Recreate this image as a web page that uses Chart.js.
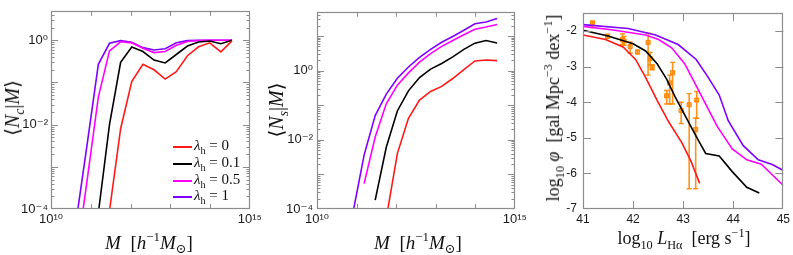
<!DOCTYPE html>
<html><head><meta charset="utf-8">
<script src="https://cdn.jsdelivr.net/npm/chart.js@4.4.1/dist/chart.umd.min.js"></script>
<style>
body{margin:0;background:#fff;width:793px;height:255px;overflow:hidden;position:relative;font-family:'Liberation Serif','DejaVu Serif',serif;}
canvas{position:absolute;top:0;}
.t{position:absolute;white-space:nowrap;transform:translate(-50%,-50%);font-size:19px;color:#111;line-height:1;}
.ty{transform:translate(-50%,-50%) rotate(-90deg);}
sup,sub{font-size:0.68em;line-height:0;}
.lg{position:absolute;left:173px;height:0;}
.lg span.sw{position:absolute;left:0;top:-1px;width:19px;height:2px;}
.lg span.tx{position:absolute;left:21px;top:-9px;font-size:15px;white-space:nowrap;color:#111;line-height:1;}
</style></head><body>
<canvas id="c1" width="265" height="255" style="left:0"></canvas>
<canvas id="c2" width="265" height="255" style="left:265px"></canvas>
<canvas id="c3" width="263" height="255" style="left:530px"></canvas>

<div class="t ty" style="left:12px;top:108px;font-size:20px">⟨<i>N</i><sub><i>c</i></sub>|<i>M</i>⟩</div>
<div class="t" style="left:149px;top:242px"><i>M</i>&nbsp;&nbsp;[<i>h</i><sup>−1</sup><i>M</i><sub>⊙</sub>]</div>
<div class="t ty" style="left:276px;top:110px;font-size:20px">⟨<i>N</i><sub><i>s</i></sub>|<i>M</i>⟩</div>
<div class="t" style="left:418px;top:242px"><i>M</i>&nbsp;&nbsp;[<i>h</i><sup>−1</sup><i>M</i><sub>⊙</sub>]</div>
<div class="t ty" style="left:553px;top:108px;font-size:18px">log<sub>10</sub> <i>φ</i>&nbsp;&nbsp;[gal Mpc<sup>−3</sup> dex<sup>−1</sup>]</div>
<div class="t" style="left:684px;top:238px;font-size:18px">log<sub>10</sub> <i>L</i><sub>Hα</sub>&nbsp;&nbsp;[erg s<sup>−1</sup>]</div>

<div id="legend"></div>

<script>
// ---------- data ----------
const logMass = [10.63, 10.91, 11.19, 11.47, 11.75, 12.03, 12.31, 12.59, 12.87, 13.15, 13.43, 13.71, 13.99, 14.27, 14.55];

// <Nc|M>
const ncLambda0   = [null, null, null, 9e-5, 0.008, 0.105, 0.27, 0.20, 0.12, 0.18, 0.43, 0.70, 0.87, 0.53, 0.97];
const ncLambda01  = [null, null, 8e-5, 0.010, 0.30, 0.69, 0.54, 0.34, 0.29, 0.46, 0.73, 0.91, 0.96, 0.83, 1.0];
const ncLambda05  = [6e-6, 5e-4, 0.045, 0.56, 0.92, 0.87, 0.65, 0.51, 0.54, 0.76, 0.94, 0.99, 1.0, 1.0, 1.0];
const ncLambda1   = [5e-5, 3.5e-3, 0.27, 0.85, 0.98, 0.90, 0.67, 0.59, 0.63, 0.87, 0.98, 1.0, 1.0, 1.0, 1.0];

// <Ns|M>
const nsLambda0   = [null, null, null, null, 5.4e-5, 4e-3, 0.042, 0.14, 0.25, 0.35, 0.59, 1.07, 1.9, 2.03, 1.94];
const nsLambda01  = [null, null, null, 1.8e-4, 6.1e-3, 0.068, 0.26, 0.63, 1.1, 1.6, 2.5, 4.1, 6.2, 7.4, 6.3];
const nsLambda05  = [null, null, 5.4e-4, 0.012, 0.11, 0.38, 0.86, 1.75, 3.1, 5.0, 7.4, 10.8, 15.6, 18.2, 21.6];
const nsLambda1   = [null, 8e-5, 3.6e-3, 0.05, 0.21, 0.60, 1.27, 2.4, 4.1, 6.6, 9.7, 14.7, 22.5, 25.5, 32];

// H-alpha luminosity function: log10 L and log10 phi
const lfL0    = [41.0, 41.45, 41.8, 42.05, 42.25, 42.48, 42.71, 42.97, 43.16, 43.33];
const lfPhi0  = [-2.11, -2.24, -2.45, -2.80, -3.30, -3.95, -4.55, -5.13, -5.67, -6.28];
const lfL01   = [41.0, 41.5, 42.0, 42.25, 42.48, 42.67, 42.84, 43.06, 43.29, 43.45, 43.72, 43.98, 44.27, 44.52];
const lfPhi01 = [-1.98, -2.14, -2.36, -2.56, -2.92, -3.35, -3.85, -4.43, -5.04, -5.44, -5.51, -5.95, -6.39, -6.55];
const lfL05   = [41.0, 41.6, 42.25, 42.51, 42.77, 43.03, 43.23, 43.68, 43.98, 44.27, 44.56, 45.0];
const lfPhi05 = [-1.87, -1.97, -2.11, -2.24, -2.47, -2.92, -3.46, -4.68, -5.31, -5.62, -5.74, -6.34];
const lfL1    = [41.0, 41.9, 42.45, 42.9, 43.26, 43.49, 43.72, 43.9, 44.2, 44.5, 44.79, 45.0];
const lfPhi1  = [-1.82, -1.93, -2.11, -2.38, -2.80, -3.28, -3.80, -4.52, -5.22, -5.62, -5.76, -5.92];

// observational points with error bars
const obsL   = [41.19, 41.49, 41.79, 41.82, 41.94, 42.09, 42.30, 42.34, 42.38, 42.67, 42.73, 42.79, 42.96, 43.12, 43.27, 43.25];
const obsPhi = [-1.79, -2.15, -2.24, -2.28, -2.44, -2.59, -2.32, -2.77, -3.02, -3.82, -3.46, -3.17, -4.23, -4.07, -3.94, -4.77];
const obsLo  = [-1.90, -2.20, -2.38, -2.40, -2.62, -2.64, -3.24, -2.95, -3.09, -4.05, -4.05, -4.05, -4.60, -6.43, -4.45, -6.43];
const obsHi  = [-1.72, -2.10, -2.08, -2.15, -2.31, -2.54, -2.06, -2.60, -2.95, -3.67, -3.24, -2.88, -4.00, -3.76, -3.70, -4.45];

const seriesNames  = ['λh = 0', 'λh = 0.1', 'λh = 0.5', 'λh = 1'];
const seriesColors = ['#ff1a1a', '#000000', '#ff00ff', '#7f00ff'];
const massTicks  = [10, 15];
const occTicks   = [-4, -2, 0];
const lumTicks   = [41, 42, 43, 44, 45];
const phiTicks   = [-7, -6, -5, -4, -3, -2];

// ---------- helpers ----------
const SUP = {'0':'⁰','1':'¹','2':'²','3':'³','4':'⁴','5':'⁵','6':'⁶','7':'⁷','8':'⁸','9':'⁹','-':'⁻'};
const pow10Label = e => '10' + String(e).split('').map(c => SUP[c]).join('');

function massSeries(vals) {
  const out = [];
  vals.forEach((v, i) => { if (v !== null) out.push({x: Math.pow(10, logMass[i]), y: v}); });
  return out;
}
function xySeries(xs, ys) { return xs.map((x, i) => ({x, y: ys[i]})); }

function lineDs(data, color) {
  return {data, showLine: true, borderColor: color, backgroundColor: color, borderWidth: 1.6,
          pointRadius: 0, fill: false, tension: 0};
}

function logTickList(min, max) {
  const list = [];
  for (let e = Math.floor(Math.log10(min)); e <= Math.ceil(Math.log10(max)); e++) {
    for (let k = 1; k <= 9; k++) {
      const v = k * Math.pow(10, e);
      if (v > min * 1.0001 && v < max * 0.9999) list.push({v, major: k === 1});
    }
  }
  return list;
}

const frameTicks = {
  id: 'frameTicks',
  afterDraw(chart, args, o) {
    const {ctx, chartArea: a, scales} = chart;
    ctx.save();
    ctx.strokeStyle = '#8c8c8c';
    ctx.lineWidth = 1;
    ctx.beginPath();
    (o.xTicks || []).forEach(t => {
      const p = Math.round(scales.x.getPixelForValue(t.v)) + 0.5;
      const L = t.major ? o.xMajor : o.xMinor;
      ctx.moveTo(p, a.bottom); ctx.lineTo(p, a.bottom - L);
      ctx.moveTo(p, a.top); ctx.lineTo(p, a.top + L);
    });
    (o.yTicks || []).forEach(t => {
      const p = Math.round(scales.y.getPixelForValue(t.v)) + 0.5;
      const L = t.major ? o.yMajor : o.yMinor;
      ctx.moveTo(a.left, p); ctx.lineTo(a.left + L, p);
      ctx.moveTo(a.right, p); ctx.lineTo(a.right - L, p);
    });
    ctx.stroke();
    ctx.lineWidth = 1.2;
    ctx.strokeRect(Math.round(a.left) + 0.5, Math.round(a.top) + 0.5,
                   Math.round(a.right - a.left) - 1, Math.round(a.bottom - a.top) - 1);
    ctx.restore();
  }
};
Chart.register(frameTicks);

const tickColor = '#1a1a1a';
const tickFamily = "'Liberation Sans', 'DejaVu Sans', sans-serif";

function makeOptions(c) {
  const font = {family: tickFamily, size: c.fontSize};
  return {
    responsive: false, animation: false, events: [],
    layout: {padding: {top: 5, right: c.padRight, left: 0, bottom: 0}, autoPadding: false},
    plugins: {legend: {display: false}, tooltip: {enabled: false},
              frameTicks: c.frame},
    scales: {
      x: {type: c.xType, min: c.xMin, max: c.xMax,
          grid: {display: false, drawTicks: false}, border: {display: false},
          afterFit: s => { s.height = 46; },
          afterBuildTicks: s => { s.ticks = c.xTickVals.map(v => ({value: v})); },
          ticks: {callback: c.xLabel, font, color: tickColor, padding: 3,
                  maxRotation: 0, autoSkip: false}},
      y: {type: c.yType, min: c.yMin, max: c.yMax,
          grid: {display: false, drawTicks: false}, border: {display: false},
          afterFit: s => { s.width = c.yWidth; },
          afterBuildTicks: s => { s.ticks = c.yTickVals.map(v => ({value: v})); },
          ticks: {callback: c.yLabel, font, color: tickColor, padding: c.yPad,
                  autoSkip: false}}
    }
  };
}

const decadeTicks = [11, 12, 13, 14].map(e => ({v: Math.pow(10, e), major: true}));

// ---------- panel 1 ----------
new Chart(document.getElementById('c1'), {
  type: 'scatter',
  data: {datasets: [ncLambda0, ncLambda01, ncLambda05, ncLambda1].map((s, i) => lineDs(massSeries(s), seriesColors[i]))},
  options: makeOptions({
    padRight: 14, yWidth: 51, yPad: 3, fontSize: 13,
    xType: 'logarithmic', xMin: 1e10, xMax: 1e15,
    xTickVals: massTicks.map(e => Math.pow(10, e)),
    xLabel: v => pow10Label(Math.round(Math.log10(v))),
    yType: 'logarithmic', yMin: 1e-4, yMax: 5,
    yTickVals: occTicks.map(e => Math.pow(10, e)),
    yLabel: v => pow10Label(Math.round(Math.log10(v))),
    frame: {xTicks: decadeTicks, yTicks: logTickList(1e-4, 5), xMajor: 5, xMinor: 3, yMajor: 7, yMinor: 3.5}
  })
});

// ---------- panel 2 ----------
new Chart(document.getElementById('c2'), {
  type: 'scatter',
  data: {datasets: [nsLambda0, nsLambda01, nsLambda05, nsLambda1].map((s, i) => lineDs(massSeries(s), seriesColors[i]))},
  options: makeOptions({
    padRight: 10, yWidth: 52, yPad: 4, fontSize: 13,
    xType: 'logarithmic', xMin: 1e10, xMax: 1e15,
    xTickVals: massTicks.map(e => Math.pow(10, e)),
    xLabel: v => pow10Label(Math.round(Math.log10(v))),
    yType: 'logarithmic', yMin: 1e-4, yMax: 50,
    yTickVals: occTicks.map(e => Math.pow(10, e)),
    yLabel: v => pow10Label(Math.round(Math.log10(v))),
    frame: {xTicks: decadeTicks, yTicks: logTickList(1e-4, 50), xMajor: 5, xMinor: 3, yMajor: 7, yMinor: 3.5}
  })
});

// ---------- panel 3 ----------
const errData = [];
obsL.forEach((L, i) => { errData.push({x: L, y: obsLo[i]}, {x: L, y: obsHi[i]}, {x: L, y: null}); });

new Chart(document.getElementById('c3'), {
  type: 'scatter',
  data: {datasets: [
    lineDs(xySeries(lfL0, lfPhi0), seriesColors[0]),
    lineDs(xySeries(lfL01, lfPhi01), seriesColors[1]),
    lineDs(xySeries(lfL05, lfPhi05), seriesColors[2]),
    lineDs(xySeries(lfL1, lfPhi1), seriesColors[3]),
    {data: errData, showLine: true, spanGaps: false, borderColor: 'rgba(255,135,0,0.9)', borderWidth: 1.6,
     pointStyle: 'line', pointRadius: 2.6, pointBorderWidth: 1.4, pointBorderColor: 'rgba(255,135,0,0.9)'},
    {data: xySeries(obsL, obsPhi), showLine: false, pointStyle: 'rect', pointRadius: 2.9,
     pointBackgroundColor: 'rgba(255,170,80,0.95)', pointBorderColor: 'rgba(255,130,0,1)', pointBorderWidth: 1}
  ]},
  options: makeOptions({
    padRight: 5, yWidth: 53, yPad: 6, fontSize: 12,
    xType: 'linear', xMin: 41, xMax: 45,
    xTickVals: lumTicks, xLabel: v => String(v),
    yType: 'linear', yMin: -7, yMax: -1.5,
    yTickVals: phiTicks, yLabel: v => String(v),
    frame: {xTicks: [42, 43, 44].map(v => ({v, major: true})),
            yTicks: [-6, -5, -4, -3, -2].map(v => ({v, major: true})),
            xMajor: 8, xMinor: 4, yMajor: 8, yMinor: 4}
  })
});

// ---------- legend (panel 1) ----------
const legendRows = [147, 164, 181, 197];
const lg = document.getElementById('legend');
seriesNames.forEach((name, i) => {
  const row = document.createElement('div');
  row.className = 'lg';
  row.style.top = legendRows[i] + 'px';
  const parts = name.split(' = ');
  row.innerHTML = '<span class="sw" style="background:' + seriesColors[i] + '"></span>' +
    '<span class="tx"><i>λ</i><sub>h</sub> = ' + parts[1] + '</span>';
  lg.appendChild(row);
});
</script>
</body></html>
